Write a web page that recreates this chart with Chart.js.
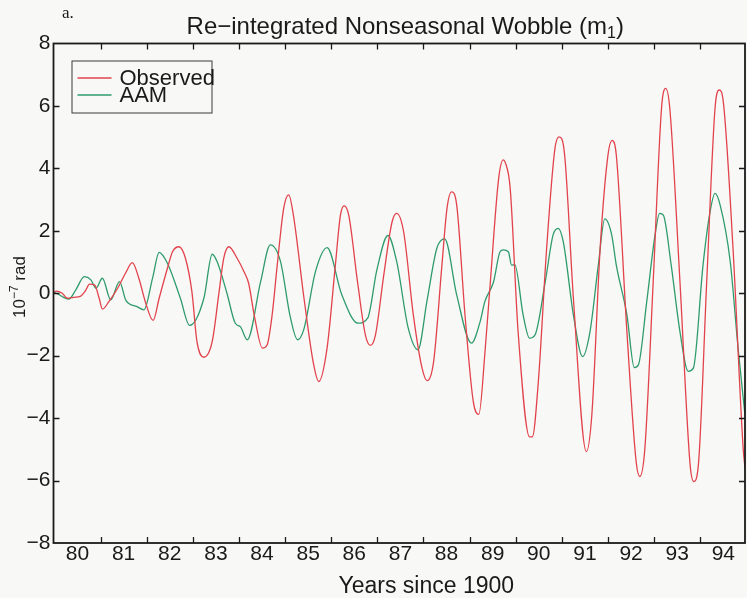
<!DOCTYPE html>
<html>
<head>
<meta charset="utf-8">
<script src="https://cdn.jsdelivr.net/npm/chart.js@4.4.1/dist/chart.umd.min.js"></script>
<style>
  html, body { margin: 0; padding: 0; background: #f8f8f6; }
  #wrap { width: 747px; height: 598px; }
</style>
</head>
<body>
<div id="wrap"><canvas id="c" width="747" height="598"></canvas></div>
<script>
// Axis ticks
const yearTicks = [80, 81, 82, 83, 84, 85, 86, 87, 88, 89, 90, 91, 92, 93, 94];
const valueTicks = [-8, -6, -4, -2, 0, 2, 4, 6, 8];
const yearRange = [79.48, 94.47];

// Observed polar motion (m1), 1e-7 rad
const obsYears = [79.48, 79.54, 79.67, 79.78, 79.92, 80.07, 80.18, 80.26, 80.37, 80.47,
  80.54, 80.68, 80.87, 81.04, 81.19, 81.33, 81.47, 81.64, 81.77, 81.95,
  82.06, 82.20, 82.34, 82.48, 82.59, 82.74, 82.92, 83.07, 83.17, 83.28,
  83.46, 83.61, 83.71, 83.83, 84.01, 84.11, 84.22, 84.33, 84.47, 84.58, 84.68, 84.91,
  85.12, 85.23, 85.41, 85.59, 85.70, 85.78, 85.88, 86.07, 86.24, 86.35,
  86.46, 86.64, 86.82, 86.92, 87.07, 87.28, 87.47, 87.58, 87.72, 87.90,
  88.01, 88.11, 88.22, 88.40, 88.58, 88.70, 88.84, 88.95, 89.13, 89.23, 89.27,
  89.38, 89.55, 89.80, 89.86, 89.99, 90.17, 90.35, 90.44, 90.56, 90.75,
  91.03, 91.15, 91.33, 91.50, 91.59, 91.68, 91.91, 92.11, 92.19, 92.30,
  92.48, 92.66, 92.75, 92.84, 93.06, 93.28, 93.36, 93.46, 93.64, 93.82,
  93.91, 94.00, 94.21, 94.43, 94.47];
const obsValues = [0.02, 0.07, 0.0, -0.16, -0.13, -0.09, 0.1, 0.29, 0.27, -0.16,
  -0.51, -0.27, 0.16, 0.64, 0.98, 0.48, -0.27, -0.87, -0.16, 0.8,
  1.33, 1.49, 1.12, 0.05, -1.55, -2.05, -1.55, 0.05, 1.12, 1.49,
  1.12, 0.69, 0.32, -0.69, -1.76, -1.66, -0.69, 0.9, 2.72, 3.15, 2.5, -0.16,
  -2.29, -2.83, -1.76, 0.9, 2.5, 2.8, 2.5, 0.37, -1.33, -1.67,
  -1.33, 0.59, 2.29, 2.56, 1.97, -0.69, -2.4, -2.8, -2.19, 0.9,
  2.72, 3.25, 2.83, -0.69, -3.47, -3.88, -1.76, 0.37, 3.68, 4.27, 4.2,
  3.36, -1.2, -4.6, -4.6, -2.83, 1.44, 4.64, 5.01, 4.43, -0.16,
  -5.07, -3.89, 1.44, 4.43, 4.9, 4.43, -1.23, -5.39, -5.87, -4.96,
  0.37, 5.92, 6.56, 5.92, 0.37, -5.49, -6.03, -5.49, 0.37, 5.92,
  6.51, 6.13, 1.44, -4.96, -5.6];

// Atmospheric angular momentum excitation, re-integrated
const aamYears = [79.48, 79.54, 79.81, 79.96, 80.15, 80.29, 80.40, 80.54, 80.72, 80.91,
  81.05, 81.29, 81.44, 81.63, 81.77, 81.95, 82.23, 82.43, 82.74, 82.92,
  83.03, 83.24, 83.42, 83.53, 83.68, 83.97, 84.18, 84.40, 84.61, 84.77, 84.91,
  85.16, 85.41, 85.73, 86.08, 86.29, 86.49, 86.73, 86.92, 87.17, 87.38,
  87.58, 87.79, 87.96, 88.22, 88.54, 88.73, 88.83, 89.02, 89.16, 89.23,
  89.34, 89.41, 89.48, 89.66, 89.80, 89.92, 90.14, 90.31, 90.42, 90.53,
  90.75, 90.95, 91.11, 91.29, 91.43, 91.58, 91.68, 91.91, 92.07, 92.16,
  92.34, 92.52, 92.62, 92.70, 92.87, 93.06, 93.24, 93.35, 93.56, 93.70,
  93.82, 93.93, 94.15, 94.32, 94.47];
const aamValues = [0.02, 0.0, -0.19, 0.1, 0.53, 0.43, 0.16, 0.48, -0.21, 0.37,
  -0.23, -0.43, -0.53, 0.5, 1.31, 0.96, -0.16, -1.03, -0.16, 1.25,
  1.0, 0.0, -0.96, -1.07, -1.49, 0.37, 1.55, 1.02, -0.74, -1.49, -1.14,
  0.7, 1.46, -0.05, -0.96, -0.8, 0.75, 1.85, 1.01, -1.12, -1.81,
  -0.21, 1.44, 1.74, -0.05, -1.6, -0.9, -0.27, 0.37, 1.33, 1.39,
  1.33, 0.9, 0.92, -0.69, -1.44, -1.33, 0.37, 1.87, 2.08, 1.65,
  -0.69, -2.03, -1.23, 0.9, 2.38, 1.87, 0.9, -0.69, -2.38, -2.29,
  -0.27, 1.87, 2.56, 2.5, 0.9, -1.23, -2.5, -2.4, 0.9, 2.5,
  3.2, 2.83, 1.01, -1.76, -3.9];

const seriesNames = ['Observed', 'AAM'];
const seriesColors = ['#e2424c', '#2f9b6c'];

const SANS = '"Liberation Sans", Arial, Helvetica, sans-serif';
const INK = '#1a1a1a';

function pairs(xs, ys) { return xs.map((x, i) => ({ x: x, y: ys[i] })); }

// Boxed axes with inward ticks, in-plot legend, titles
const framePlugin = {
  id: 'frame',
  beforeDraw(chart) {
    const ctx = chart.ctx;
    ctx.save();
    ctx.fillStyle = '#f8f8f6';
    ctx.fillRect(0, 0, chart.width, chart.height);
    ctx.restore();
  },
  afterDatasetsDraw(chart) {
    const { ctx, chartArea: a, scales: { x, y } } = chart;
    ctx.save();
    // inward tick marks: x between year labels, y at value ticks
    ctx.strokeStyle = INK;
    ctx.lineWidth = 1.3;
    ctx.beginPath();
    for (let i = 0; i < yearTicks.length - 1; i++) {
      const px = Math.round(x.getPixelForValue((yearTicks[i] + yearTicks[i + 1]) / 2)) + 0.5;
      ctx.moveTo(px, a.bottom); ctx.lineTo(px, a.bottom - 6);
      ctx.moveTo(px, a.top); ctx.lineTo(px, a.top + 6);
    }
    valueTicks.slice(1, -1).forEach(v => {
      const py = Math.round(y.getPixelForValue(v)) + 0.5;
      ctx.moveTo(a.left, py); ctx.lineTo(a.left + 6, py);
      ctx.moveTo(a.right, py); ctx.lineTo(a.right - 6, py);
    });
    ctx.stroke();
    // plot box
    ctx.lineWidth = 1.8;
    ctx.strokeRect(a.left, a.top, a.right - a.left, a.bottom - a.top);

    // legend box
    const lx = a.left + 18, ly = a.top + 17, lw = 140, lh = 52;
    ctx.fillStyle = '#f8f8f6';
    ctx.fillRect(lx, ly, lw, lh);
    ctx.strokeStyle = '#3a3a3a';
    ctx.lineWidth = 1;
    ctx.strokeRect(lx + 0.5, ly + 0.5, lw, lh);
    ctx.font = '22px ' + SANS;
    ctx.textBaseline = 'middle';
    ctx.textAlign = 'left';
    chart.data.datasets.forEach((ds, i) => {
      const ry = ly + 17.5 + i * 17;
      ctx.strokeStyle = ds.borderColor;
      ctx.lineWidth = 1.3;
      ctx.beginPath();
      ctx.moveTo(lx + 6, ry); ctx.lineTo(lx + 40, ry);
      ctx.stroke();
      ctx.fillStyle = INK;
      ctx.fillText(ds.label, lx + 48, ry + 0.5);
    });
    ctx.restore();
  },
  afterDraw(chart) {
    const { ctx, chartArea: a } = chart;
    ctx.save();
    ctx.fillStyle = INK;
    ctx.textBaseline = 'alphabetic';
    ctx.textAlign = 'left';

    // panel letter
    ctx.font = '17px "Liberation Serif", "Times New Roman", serif';
    ctx.fillText('a.', 62, 18);

    // title with subscript
    const head = 'Re\u2212integrated Nonseasonal Wobble (m';
    ctx.font = '24px ' + SANS;
    const w1 = ctx.measureText(head).width;
    const w3 = ctx.measureText(')').width;
    ctx.font = '16px ' + SANS;
    const w2 = ctx.measureText('1').width;
    let tx = (a.left + a.right) / 2 + 6 - (w1 + w2 + w3) / 2;
    const tb = 34;
    ctx.font = '24px ' + SANS;
    ctx.fillText(head, tx, tb);
    tx += w1;
    ctx.font = '16px ' + SANS;
    ctx.fillText('1', tx, tb + 4);
    tx += w2;
    ctx.font = '24px ' + SANS;
    ctx.fillText(')', tx, tb);

    // x-axis title
    ctx.font = '23px ' + SANS;
    ctx.textAlign = 'center';
    ctx.fillText('Years since 1900', (a.left + a.right) / 2 + 27, 593);

    // y-axis title with superscript, rotated
    ctx.save();
    ctx.translate(25, 287);
    ctx.rotate(-Math.PI / 2);
    ctx.textAlign = 'left';
    const p1 = '10', p2 = '\u22127', p3 = ' rad';
    ctx.font = '17px ' + SANS;
    const a1 = ctx.measureText(p1).width, a3 = ctx.measureText(p3).width;
    ctx.font = '12px ' + SANS;
    const a2 = ctx.measureText(p2).width;
    let ux = -(a1 + a2 + a3) / 2;
    ctx.font = '17px ' + SANS;
    ctx.fillText(p1, ux, 0); ux += a1;
    ctx.font = '12px ' + SANS;
    ctx.fillText(p2, ux, -7); ux += a2;
    ctx.font = '17px ' + SANS;
    ctx.fillText(p3, ux, 0);
    ctx.restore();

    ctx.restore();
  }
};

new Chart(document.getElementById('c'), {
  type: 'line',
  data: {
    datasets: [
      { label: seriesNames[0], data: pairs(obsYears, obsValues), borderColor: seriesColors[0] },
      { label: seriesNames[1], data: pairs(aamYears, aamValues), borderColor: seriesColors[1] }
    ]
  },
  options: {
    responsive: false,
    animation: false,
    devicePixelRatio: 1,
    layout: { padding: { top: 43.5, right: 2, left: 0, bottom: 0 } },
    elements: {
      point: { radius: 0 },
      line: { borderWidth: 1.3, cubicInterpolationMode: 'monotone', fill: false }
    },
    plugins: {
      legend: { display: false },
      tooltip: { enabled: false },
      title: { display: false }
    },
    scales: {
      x: {
        type: 'linear',
        min: yearRange[0],
        max: yearRange[1],
        afterBuildTicks: s => { s.ticks = yearTicks.map(v => ({ value: v })); },
        afterFit: s => { s.height = 55; },
        grid: { display: false, drawTicks: false },
        border: { display: false },
        ticks: {
          autoSkip: false, maxRotation: 0, padding: 1, color: INK,
          font: { family: SANS, size: 21, lineHeight: 1 },
          callback: v => String(v)
        }
      },
      y: {
        type: 'linear',
        min: valueTicks[0],
        max: valueTicks[valueTicks.length - 1],
        afterBuildTicks: s => { s.ticks = valueTicks.map(v => ({ value: v })); },
        afterFit: s => { s.width = 53.5; },
        grid: { display: false, drawTicks: false },
        border: { display: false },
        ticks: {
          padding: 3, color: INK,
          font: { family: SANS, size: 21, lineHeight: 1 },
          callback: v => (v < 0 ? '\u2212' + (-v) : String(v))
        }
      }
    }
  },
  plugins: [framePlugin]
});
</script>
</body>
</html>
